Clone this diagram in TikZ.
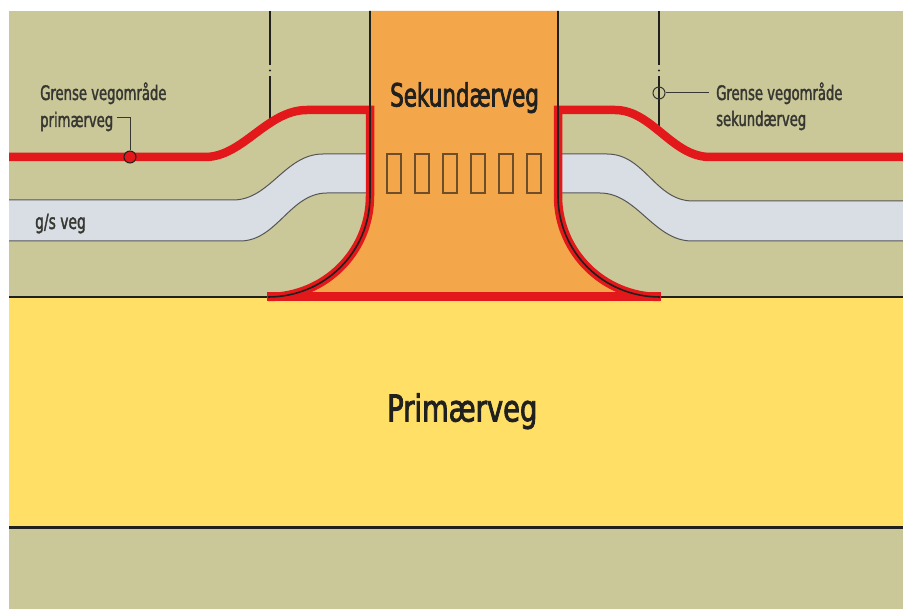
\documentclass[tikz,border=0pt]{standalone}
\usepackage{fontspec}
\newfontfamily\labfont[FakeStretch=0.66,FakeBold=1.6]{DejaVu Sans}
\newfontfamily\secfont[FakeStretch=0.67,FakeBold=2.2]{DejaVu Sans}
\newfontfamily\prifont[FakeStretch=0.74,FakeBold=2.2]{DejaVu Sans}
\definecolor{bgOlive}{RGB}{202,200,152}
\definecolor{priYellow}{RGB}{255,223,102}
\definecolor{secOrange}{RGB}{244,167,74}
\definecolor{limRed}{RGB}{227,24,27}
\definecolor{gsBand}{RGB}{217,222,228}
\definecolor{edgeGray}{RGB}{85,85,85}
\definecolor{inkDark}{RGB}{32,32,30}
\definecolor{labInk}{RGB}{55,55,50}
\definecolor{zebraInk}{RGB}{110,78,40}
\tikzset{
  bandedge/.style={draw=edgeGray, line width=1pt},
  limitline/.style={draw=limRed, line width=8.5pt, line join=miter, line cap=butt},
  blackline/.style={draw=inkDark, line width=1.6pt},
  zebrabox/.style={draw=zebraInk, line width=1.1pt},
  dashdotline/.style={draw=inkDark, line width=1.4pt},
  leaderline/.style={draw=labInk, line width=1pt},
  smalllab/.style={font=\labfont\fontsize{20}{24}\selectfont, text=labInk, inner sep=0pt, anchor=base west},
}
\begin{document}
\begin{tikzpicture}[x=1pt,y=-1pt]
\useasboundingbox (0,0) rectangle (903,609);
\fill[white] (0,0) rectangle (903,609);
\fill[bgOlive] (9,11) rectangle (903,609);
% primary road
\fill[priYellow] (9,297) rectangle (903,527.5);
% g/s veg band, left
\fill[gsBand] (9,200) -- (233,200) .. controls (270,200) and (285,154) .. (323,154) -- (372,154)
  -- (372,193) -- (327,193) .. controls (290,193) and (277,241) .. (240,241) -- (9,241) -- cycle;
\draw[bandedge] (9,200) -- (233,200) .. controls (270,200) and (285,154) .. (323,154) -- (370,154);
\draw[bandedge] (9,241) -- (240,241) .. controls (277,241) and (290,193) .. (327,193) -- (370,193);
% g/s veg band, right
\fill[gsBand] (556,154) -- (607,154) .. controls (645,154) and (655,201) .. (693,201) -- (903,201)
  -- (903,241) -- (692,241) .. controls (654,241) and (637,193) .. (600,193) -- (556,193) -- cycle;
\draw[bandedge] (558,154) -- (607,154) .. controls (645,154) and (655,201) .. (693,201) -- (903,201);
\draw[bandedge] (558,193) -- (600,193) .. controls (637,193) and (654,241) .. (692,241) -- (903,241);
% secondary road
\fill[secOrange] (370,11) -- (370,196) .. controls (370,251.8) and (324.8,297) .. (269,297)
  -- (659,297) .. controls (603.2,297) and (558,251.8) .. (558,196) -- (558,11) -- cycle;
% pedestrian crossing
\foreach \i in {0,...,5}
  \draw[zebrabox] ({387+28*\i},154) rectangle ({401+28*\i},193);
% edges of primary road
\draw[blackline, line width=1.8pt] (9,297) -- (903,297);
\draw[blackline, line width=2.2pt] (9,527.5) -- (903,527.5);
% dash-dot property lines
\draw[dashdotline] (270,11) -- (270,65);
\fill[inkDark] (270,70.5) circle[radius=1.2pt];
\draw[dashdotline] (270,76) -- (270,121);
\draw[dashdotline] (659,11) -- (659,65);
\fill[inkDark] (659,70.5) circle[radius=1.2pt];
\draw[dashdotline] (659,76) -- (659,129);
% road area limits (red)
\draw[limitline] (9,157) -- (205,157) .. controls (243,157) and (267,110) .. (307,110) -- (370,110)
  -- (370,196) .. controls (370,251.8) and (324.8,297) .. (268,297);
\draw[limitline] (903,157) -- (710,157) .. controls (672,157) and (652,110) .. (615,110) -- (558,110)
  -- (558,196) .. controls (558,251.8) and (603.2,297) .. (660,297);
\draw[limitline] (267,296.5) -- (661,296.5);
% secondary road edges (black, on top)
\draw[blackline] (370,11) -- (370,196) .. controls (370,251.8) and (324.8,297) .. (268,297);
\draw[blackline] (558,11) -- (558,196) .. controls (558,251.8) and (603.2,297) .. (660,297);
% markers
\node[circle, draw=inkDark, fill=limRed, line width=1pt, minimum size=12pt, inner sep=0pt] (mkL) at (130,157) {};
\node[circle, draw=labInk, line width=1pt, minimum size=12pt, inner sep=0pt] (mkR) at (659,93) {};
\coordinate (ldL) at (117,118);
\coordinate (ldLc) at (130,118);
\coordinate (ldR) at (709,93);
\draw[leaderline] (ldL) -- (ldLc) -- (mkL.north);
\draw[leaderline] (mkR.east) -- (ldR);
% texts
\node[smalllab] (labL1) at (40,100) {Grense vegområde};
\node[smalllab] (labL2) at (40,127) {primærveg};
\node[smalllab] (labR1) at (716,100) {Grense vegområde};
\node[smalllab] (labR2) at (716,126) {sekundærveg};
\node[smalllab, font=\labfont\fontsize{21}{24}\selectfont] (gslab) at (35,229) {g/s veg};
\node[font=\secfont\fontsize{32}{36}\selectfont, text=inkDark, inner sep=0pt, anchor=base west] (seklab) at (390,106.5) {Sekundærveg};
\node[font=\prifont\fontsize{37}{42}\selectfont, text=inkDark, inner sep=0pt, anchor=base west] (prilab) at (387,421.5) {Primærveg};
\end{tikzpicture}
\end{document}
